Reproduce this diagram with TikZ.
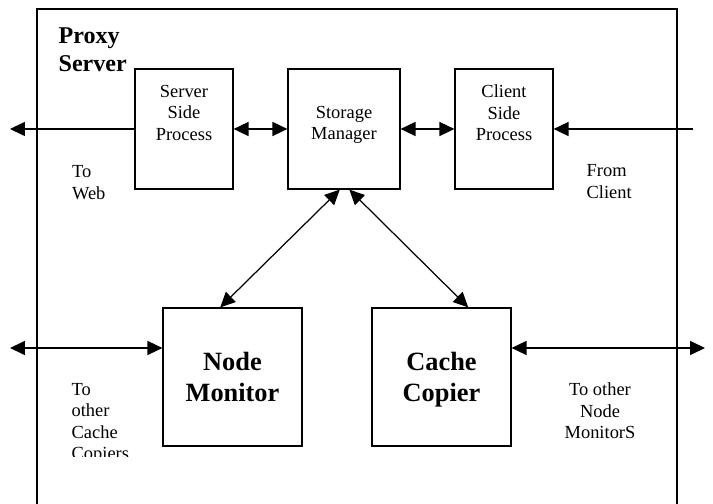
\documentclass[tikz,border=0pt]{standalone}
\usepackage{fontspec}
\setmainfont{Liberation Serif}
\usetikzlibrary{arrows.meta}

\begin{document}
\begin{tikzpicture}[>={Triangle[length=8.5pt,width=8pt]},line width=0.7pt,
    box/.style={draw,rectangle,inner sep=0pt,minimum height=2.4cm},
    bigbox/.style={draw,rectangle,inner sep=0pt,minimum width=2.78cm,minimum height=2.76cm,text depth=0pt,align=center,font=\fontsize{15}{17.6}\selectfont\bfseries},
    txt/.style={inner sep=0pt,align=center,font=\fontsize{10.5}{12.2}\selectfont},
    lbl/.style={inner sep=0pt,align=left,anchor=north west,font=\fontsize{10.5}{12.2}\selectfont}]
  \useasboundingbox (0,0) rectangle (14.26,10.08);
  \draw (0.74,0) -- (0.74,9.9) -- (13.54,9.9) -- (13.54,0);
  \node[lbl,font=\fontsize{13.7}{16}\selectfont\bfseries] (proxy) at (1.16,9.54) {Proxy\\Server};

  \node[box,minimum width=1.96cm] (sside) at (3.68,7.5) {};
  \node[box,minimum width=2.24cm] (store) at (6.88,7.5) {};
  \node[box,minimum width=1.96cm] (cside) at (10.08,7.5) {};
  \node[txt,anchor=north] (sside-t) at ([yshift=-0.32cm]sside.north) {Server\\Side\\Process};
  \node[txt,anchor=north] (store-t) at ([yshift=-0.74cm]store.north) {Storage\\Manager};
  \node[txt,anchor=north] (cside-t) at ([yshift=-0.32cm]cside.north) {Client\\Side\\Process};
  \node[bigbox] (nmon) at (4.65,2.54) {Node\\Monitor};
  \node[bigbox] (ccop) at (8.83,2.54) {Cache\\Copier};

  \coordinate (web) at (0.2,7.5);
  \coordinate (client) at (13.86,7.5);
  \coordinate (ccs) at (0.2,3.12);
  \coordinate (nms) at (14.1,3.12);

  \draw[->] (sside.west) -- (web);
  \draw[<->] (sside.east) -- (store.west);
  \draw[<->] (store.east) -- (cside.west);
  \draw[->] (client) -- (cside.east);
  \draw[<->] (store.266) -- (nmon.100);
  \draw[<->] (store.275) -- (ccop.69);
  \draw[<->] (ccs) -- (ccs -| nmon.west);
  \draw[<->] (ccop.east |- nms) -- (nms);

  \node[lbl] (toweb) at (1.43,6.78) {To\\Web};
  \node[lbl] (fromcl) at (11.72,6.8) {From\\Client};
  \begin{scope}
    \clip (0.8,0.94) rectangle (3.2,3);
    \node[lbl] (tocc) at (1.42,2.43) {To\\other\\Cache\\Copiers};
  \end{scope}
  \node[txt,anchor=north] (tonm) at (12.0,2.43) {To other\\Node\\MonitorS};
\end{tikzpicture}
\end{document}
